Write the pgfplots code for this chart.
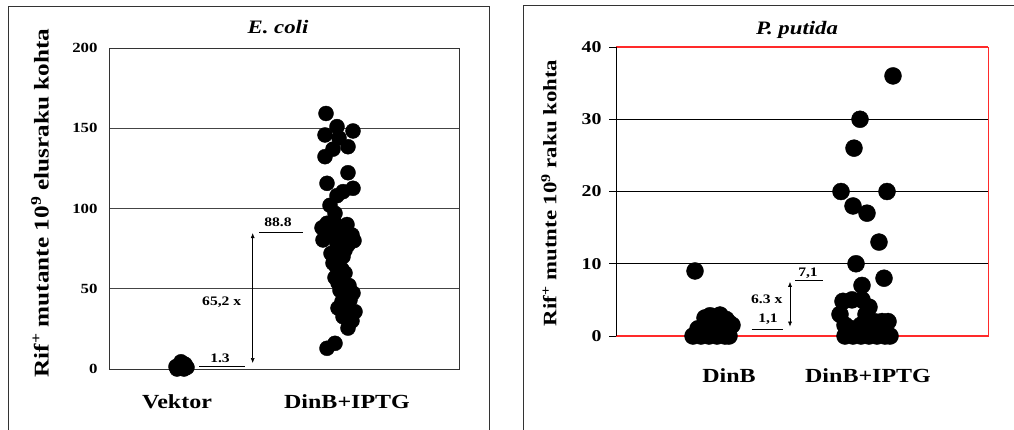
\documentclass[border=0pt]{standalone}
\usepackage{fontspec}
\setmainfont{Liberation Serif}[FakeStretch=1.2]
\usepackage{pgfplots}
\pgfplotsset{compat=1.18}
\usetikzlibrary{arrows.meta}
\definecolor{framec}{HTML}{333333}
\definecolor{gridc}{HTML}{444444}
\definecolor{redf}{HTML}{FF2A2A}
\newcommand{\fs}[1]{\fontsize{#1}{#1}\selectfont}

\begin{document}
\begin{tikzpicture}[>={Latex[length=5pt,width=4pt]}]
\path[use as bounding box] (0pt,0pt) rectangle (1014pt,429pt);
\begin{scope}[x=1pt,y=1pt]
\draw[framec, line width=1pt] (8,-5) -- (8,422) -- (489,422) -- (489,-5);
\draw[framec, line width=1pt] (523,-5) -- (523,423) -- (1020,423);
\end{scope}

% ---------------- E. coli ----------------
\begin{axis}[at={(109pt,60pt)}, anchor=south west, width=350pt, height=321pt, scale only axis,
 xmin=0, xmax=350, ymin=0, ymax=200, clip=false,
 xtick={68,238}, xticklabels={Vektor,DinB+IPTG}, xtick style={draw=none},
 ytick={0,50,...,200}, ytick style={draw=none},
 ymajorgrids, grid style={gridc, line width=0.9pt},
 axis line style={framec, line width=0.9pt},
 /pgf/number format/assume math mode=true,
 yticklabel style={font=\bfseries\fs{14}, xshift=-8pt},
 xticklabel style={font=\bfseries\fs{20}, yshift=-22pt},
]
\addplot[only marks, mark=*, mark size=7.5pt, black] coordinates {
(68,0) (75,0) (70,2) (76,3) (72,4.5) (67,1.5) (78,1) (73,1)
};
\addplot[only marks, mark=*, mark size=7.5pt, black] coordinates {
(217,159.2) (228,151) (244,148.3) (216,145.8) (239,138.5) (216,132.3)
(239,122.3) (218,115.7) (244,112.6) (234,110.5) (221,102) (226,97)
(218,90.8) (234,86.6) (243,83.5) (214,80.4) (231,80.4) (239,77.3)
(234,70) (224,66) (236,59.8) (229,53.6) (244,47.3) (231,49)
(236,38.8) (246,35.7) (234,32.6) (239,25.5) (226,16) (218,12.9)
(225,92) (229,85) (222,84) (236,74) (228,78) (233,42) (227,64)
(226,57) (240,52) (233,62) (222,72) (245,80) (213,88) (238,90)
(241,43) (229,38) (243,30) (224,137) (230,144) (228,108)
};
\draw[line width=0.6pt] (axis cs:90,1.4) -- (axis cs:136,1.4);
\node[font=\bfseries\fs{13}] at (axis cs:111,6.9) {1.3};
\draw[<->, line width=0.6pt] (axis cs:143.7,3.7) -- (axis cs:143.7,84.7);
\draw[line width=0.6pt] (axis cs:150,85.2) -- (axis cs:194,85.2);
\node[font=\bfseries\fs{13}] at (axis cs:169,91.2) {88.8};
\node[font=\bfseries\fs{13}] at (axis cs:112.7,41.9) {65,2 x};
\end{axis}

% ---------------- P. putida ----------------
\begin{axis}[at={(616pt,93pt)}, anchor=south west, width=372pt, height=289pt, scale only axis,
 xmin=0, xmax=372, ymin=0, ymax=40, clip=false,
 xtick={113,252}, xticklabels={DinB,DinB+IPTG}, xtick style={draw=none},
 ytick={0,10,...,40}, ytick pos=left, tick align=outside, major tick length=7pt,
 ytick style={black, line width=0.9pt},
 ymajorgrids, grid style={black, line width=0.9pt},
 axis line style={redf, line width=1pt},
 /pgf/number format/assume math mode=true,
 yticklabel style={font=\bfseries\fs{16.5}, xshift=-4pt},
 xticklabel style={font=\bfseries\fs{20}, yshift=-22pt},
]
\draw[redf, line width=1.2pt] (rel axis cs:0,0) -- (rel axis cs:1,0);
\draw[redf, line width=1.2pt] (rel axis cs:0,1) -- (rel axis cs:1,1);
\draw[black, line width=0.9pt] (rel axis cs:0,0) -- (rel axis cs:0,1);
\addplot[only marks, mark=*, mark size=8.5pt, black] coordinates {
(79,9) (77,0) (85,0) (93,0) (101,0) (109,0) (113,0)
(82,1) (89,1.5) (94,2.8) (100,2.5) (106,2) (113,1.8) (97,1) (105,0.8)
(89,2.5) (104,2.9) (110,2.3) (116,1.5) (84,0.5)
};
\addplot[only marks, mark=*, mark size=8.5pt, black] coordinates {
(277,36) (244,30) (238,26) (225,20) (271,20) (237,18) (251,17) (263,13)
(240,10) (268,8) (246,7)
(229,0) (237,0) (245,0) (253,0) (261,0) (269,0) (274,0)
(227,4.8) (236,5) (246,5) (253,4) (224,3) (250,3) (229,1.5) (245,1.5)
(236,1) (258,2) (266,2) (272,2) (262,1) (270,0.5)
};
\draw[<->, line width=0.6pt] (axis cs:174,1.3) -- (axis cs:174,7.5);
\draw[line width=0.6pt] (axis cs:179,7.75) -- (axis cs:207,7.75);
\node[font=\bfseries\fs{13}] at (axis cs:192,8.7) {7,1};
\node[font=\bfseries\fs{13}] at (axis cs:150.7,5.1) {6.3 x};
\node[font=\bfseries\fs{13}] at (axis cs:152,2.3) {1,1};
\draw[line width=0.6pt] (axis cs:135.7,0.93) -- (axis cs:167.3,0.93);
\end{axis}

\begin{scope}[x=1pt,y=1pt]
\node[font=\bfseries\itshape\fs{19}] at (278,402) {E. coli};
\node[font=\bfseries\itshape\fs{19}] at (797,399) {P. putida};
\node[rotate=90, font=\bfseries\fs{21}] at (40,226) {Rif\textsuperscript{+} mutante 10\textsuperscript{9} elusraku kohta};
\node[rotate=90, font=\bfseries\fs{19}] at (549,236) {Rif\textsuperscript{+} mutnte 10\textsuperscript{9} raku kohta};
\end{scope}
\end{tikzpicture}
\end{document}
